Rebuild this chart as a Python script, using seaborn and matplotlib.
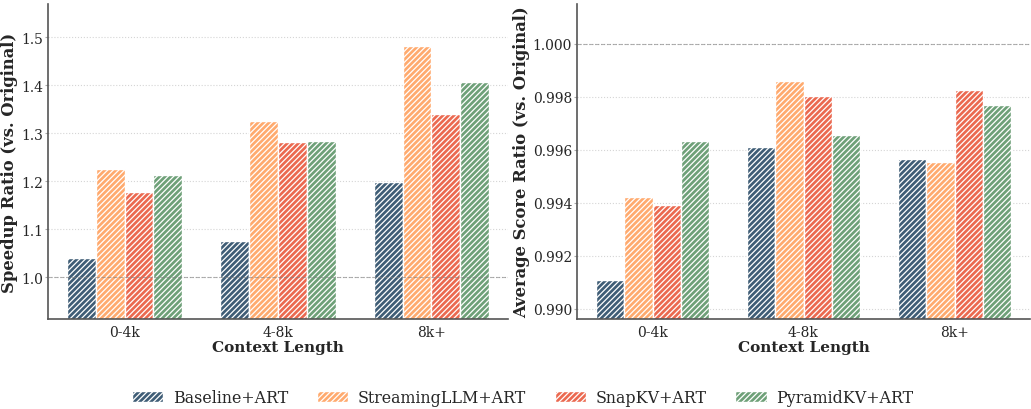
import numpy as np
import pandas as pd
import seaborn as sns
import matplotlib.pyplot as plt
from matplotlib.patches import Patch

contexts = ['0-4k', '4-8k', '8k+']
methods = ['Baseline+ART', 'StreamingLLM+ART', 'SnapKV+ART', 'PyramidKV+ART']
colors = ['#3f5d76', '#ffaa6e', '#eb6950', '#6ea078']

speedup = {
    'Baseline+ART':     [1.040, 1.076, 1.199],
    'StreamingLLM+ART': [1.225, 1.325, 1.481],
    'SnapKV+ART':       [1.177, 1.281, 1.339],
    'PyramidKV+ART':    [1.212, 1.283, 1.406],
}
score = {
    'Baseline+ART':     [0.99109, 0.99611, 0.99566],
    'StreamingLLM+ART': [0.99423, 0.99860, 0.99555],
    'SnapKV+ART':       [0.99392, 0.99804, 0.99826],
    'PyramidKV+ART':    [0.99634, 0.99657, 0.99770],
}

HATCH = '//////'


def to_frame(d):
    rows = []
    for m in methods:
        for c, v in zip(contexts, d[m]):
            rows.append({'Context Length': c, 'Method': m, 'value': v})
    return pd.DataFrame(rows)


sns.set_style('white')
plt.rcParams['font.family'] = ['DejaVu Serif']
plt.rcParams['hatch.linewidth'] = 0.9

W, H = 1031, 410
fig = plt.figure(figsize=(W / 100, H / 100), dpi=100)
ax1 = fig.add_axes([48 / W, 90 / H, 460 / W, 315 / H])
ax2 = fig.add_axes([577 / W, 90 / H, 453 / W, 315 / H])


def draw(ax, d, ylabel, ylim, ref):
    df = to_frame(d)
    sns.barplot(data=df, x='Context Length', y='value', hue='Method',
                hue_order=methods, palette=colors, width=0.75, ax=ax,
                edgecolor='white', linewidth=1.0, saturation=1, legend=False)
    for p in ax.patches:
        p.set_hatch(HATCH)
    ax.set_ylim(*ylim)
    ax.axhline(ref, color='gray', ls='--', lw=0.8, alpha=0.6, zorder=5)
    ax.grid(axis='y', ls=':', color='#d5d5d5', lw=0.8)
    ax.set_axisbelow(True)
    ax.set_ylabel(ylabel, fontsize=11.8, fontweight='bold', labelpad=2)
    ax.set_xlabel('Context Length', fontsize=11, fontweight='bold', labelpad=1)
    ax.tick_params(axis='y', labelsize=10, length=2.5, width=0.8,
                   color='#aaaaaa', pad=1, left=True)
    ax.tick_params(axis='x', labelsize=10, length=0, pad=4)
    sns.despine(ax=ax)
    for s in ['left', 'bottom']:
        ax.spines[s].set_color('#555555')
        ax.spines[s].set_linewidth(1.2)


draw(ax1, speedup, 'Speedup Ratio (vs. Original)', (0.9125, 1.569), 1.0)
draw(ax2, score, 'Average Score Ratio (vs. Original)', (0.98962, 1.0015), 1.0)
ax2.yaxis.set_major_formatter(plt.FormatStrFormatter('%.3f'))

handles = [Patch(facecolor=c, edgecolor='white', hatch=HATCH, label=m)
           for c, m in zip(colors, methods)]
fig.legend(handles=handles, loc='lower center', ncol=4, frameon=False,
           fontsize=11.4, bbox_to_anchor=(0.507, -0.028), columnspacing=1.8,
           handlelength=2.0, handletextpad=0.6)

fig.savefig('out.png', dpi=100)
